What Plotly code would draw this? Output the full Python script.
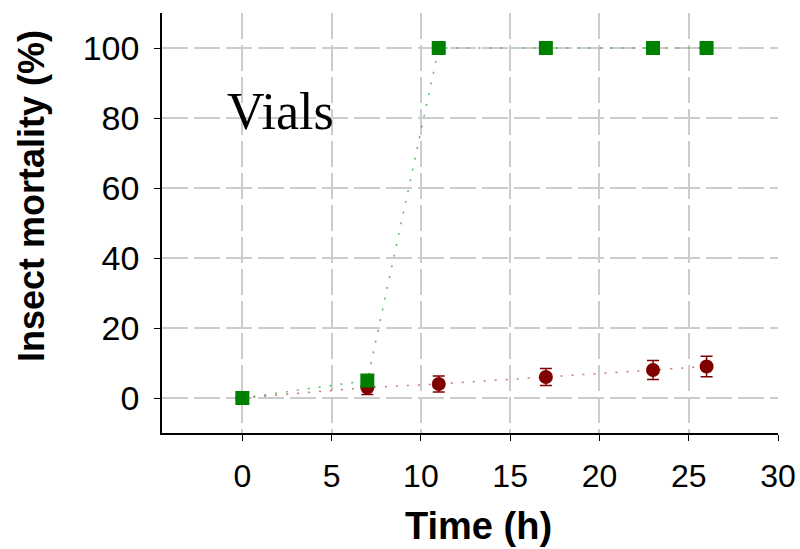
import plotly.graph_objects as go

time_h = [0, 7, 11, 17, 23, 26]
vials_control = [0, 3, 4, 6, 8, 9]
vials_control_err = [0, 2, 2.3, 2.4, 2.7, 2.9]
vials_treated = [0, 5, 100, 100, 100, 100]

x_ticks = [0, 5, 10, 15, 20, 25, 30]
y_ticks = [0, 20, 40, 60, 80, 100]

fig = go.Figure()
fig.add_trace(go.Scatter(
    x=time_h, y=vials_control, mode="lines", showlegend=False,
    line=dict(color="rgba(190,70,70,0.75)", width=1.5, dash="2px,9px"),
    hoverinfo="skip"))
fig.add_trace(go.Scatter(
    x=time_h, y=vials_treated, mode="lines", showlegend=False,
    line=dict(color="rgba(50,170,50,0.8)", width=1.5, dash="2px,9px"),
    hoverinfo="skip"))
fig.add_trace(go.Scatter(
    x=time_h, y=vials_control, mode="markers", showlegend=False,
    marker=dict(symbol="circle", size=14, color="#800000"),
    error_y=dict(type="data", array=vials_control_err, color="#800000",
                 thickness=1.5, width=6)))
fig.add_trace(go.Scatter(
    x=time_h, y=vials_treated, mode="markers", showlegend=False,
    marker=dict(symbol="square", size=14, color="#008000")))

grid = dict(showgrid=True, gridcolor="#cccccc", griddash="26px,6px", gridwidth=1.5,
            zeroline=False, automargin=False)
fig.update_xaxes(range=[-4.5, 30], tickvals=x_ticks, ticks="outside", ticklen=6,
                 tickcolor="black", showline=True, linecolor="black", linewidth=1.5,
                 tickfont=dict(family="Liberation Sans, Arial", size=32, color="black"),
                 ticklabelstandoff=8, **grid)
fig.update_yaxes(range=[-10, 110], tickvals=y_ticks, ticks="outside", ticklen=6,
                 tickcolor="black", showline=True, linecolor="black", linewidth=1.5,
                 tickfont=dict(family="Liberation Sans, Arial", size=34, color="black"),
                 ticklabelstandoff=8, **grid)
title_font = "Liberation Sans, Arial"
fig.add_annotation(xref="paper", yref="paper", x=0.513, y=-0.222, xanchor="center", yanchor="middle",
                   text="<b>Time (h)</b>", showarrow=False,
                   font=dict(family=title_font, size=38, color="black"))
fig.add_annotation(xref="paper", yref="paper", x=-0.2127, y=0.564, xanchor="center", yanchor="middle",
                   text="<b>Insect mortality (%)</b>", showarrow=False, textangle=-90,
                   font=dict(family=title_font, size=36, color="black"))
fig.add_annotation(x=2.13, y=82, xref="x", yref="y", text="Vials", showarrow=False,
                   font=dict(family="Liberation Serif, DejaVu Serif, serif", size=52, color="black"))
fig.update_layout(width=800, height=549, plot_bgcolor="white", paper_bgcolor="white",
                  margin=dict(l=162, r=22, t=13, b=116))
fig.write_html("out.html")
